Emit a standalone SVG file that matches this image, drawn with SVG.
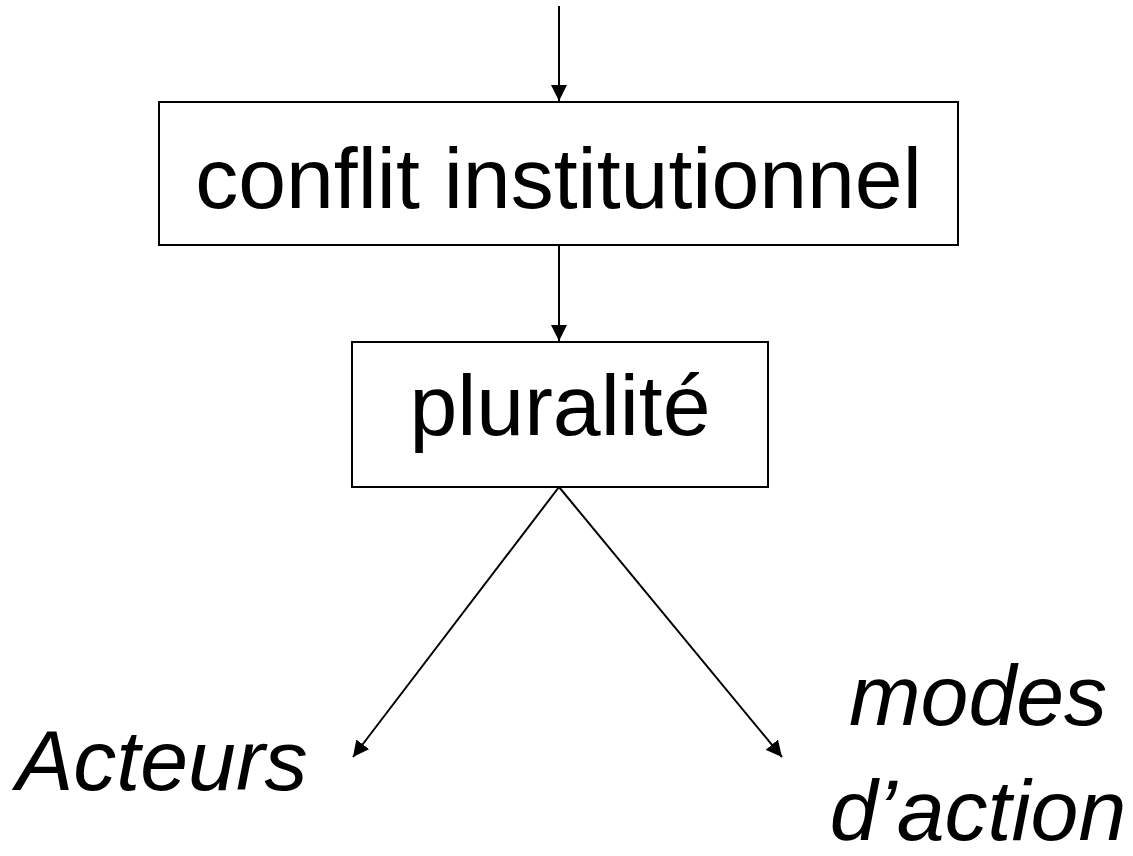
<svg xmlns="http://www.w3.org/2000/svg" width="1133" height="856" viewBox="0 0 1133 856">
<style>
.box{fill:#fff;stroke:#000;stroke-width:2}
.lbl{font-family:"Liberation Sans",Arial,sans-serif;font-size:86px;fill:#000}
.it{font-style:italic}
.edge{stroke:#000;stroke-width:2;fill:none;marker-end:url(#ah)}
</style>
<defs>
<marker id="ah" viewBox="0 0 16 16" refX="16" refY="8" markerWidth="16" markerHeight="16" markerUnits="userSpaceOnUse" orient="auto">
<path d="M0,0 L16,8 L0,16 z" fill="#000"/>
</marker>
</defs>
<rect width="1133" height="856" fill="#fff"/>
<g id="connectors">
<line class="edge" x1="559" y1="6" x2="559" y2="101"/>
<line class="edge" x1="559" y1="246" x2="559" y2="341"/>
<line class="edge" x1="559" y1="487" x2="353" y2="757"/>
<line class="edge" x1="559" y1="487" x2="782" y2="757"/>
</g>
<g id="node-conflit">
<rect class="box" x="159" y="102" width="799" height="143"/>
<text class="lbl" x="558.5" y="208" text-anchor="middle">conflit institutionnel</text>
</g>
<g id="node-pluralite">
<rect class="box" x="352" y="342" width="416" height="145"/>
<text class="lbl" x="560" y="435" text-anchor="middle">pluralité</text>
</g>
<g id="node-acteurs">
<text class="lbl it" x="16" y="790">Acteurs</text>
</g>
<g id="node-modes">
<text class="lbl it" x="978" y="725" text-anchor="middle">modes</text>
<text class="lbl it" x="978" y="840" text-anchor="middle">d’action</text>
</g>
</svg>
